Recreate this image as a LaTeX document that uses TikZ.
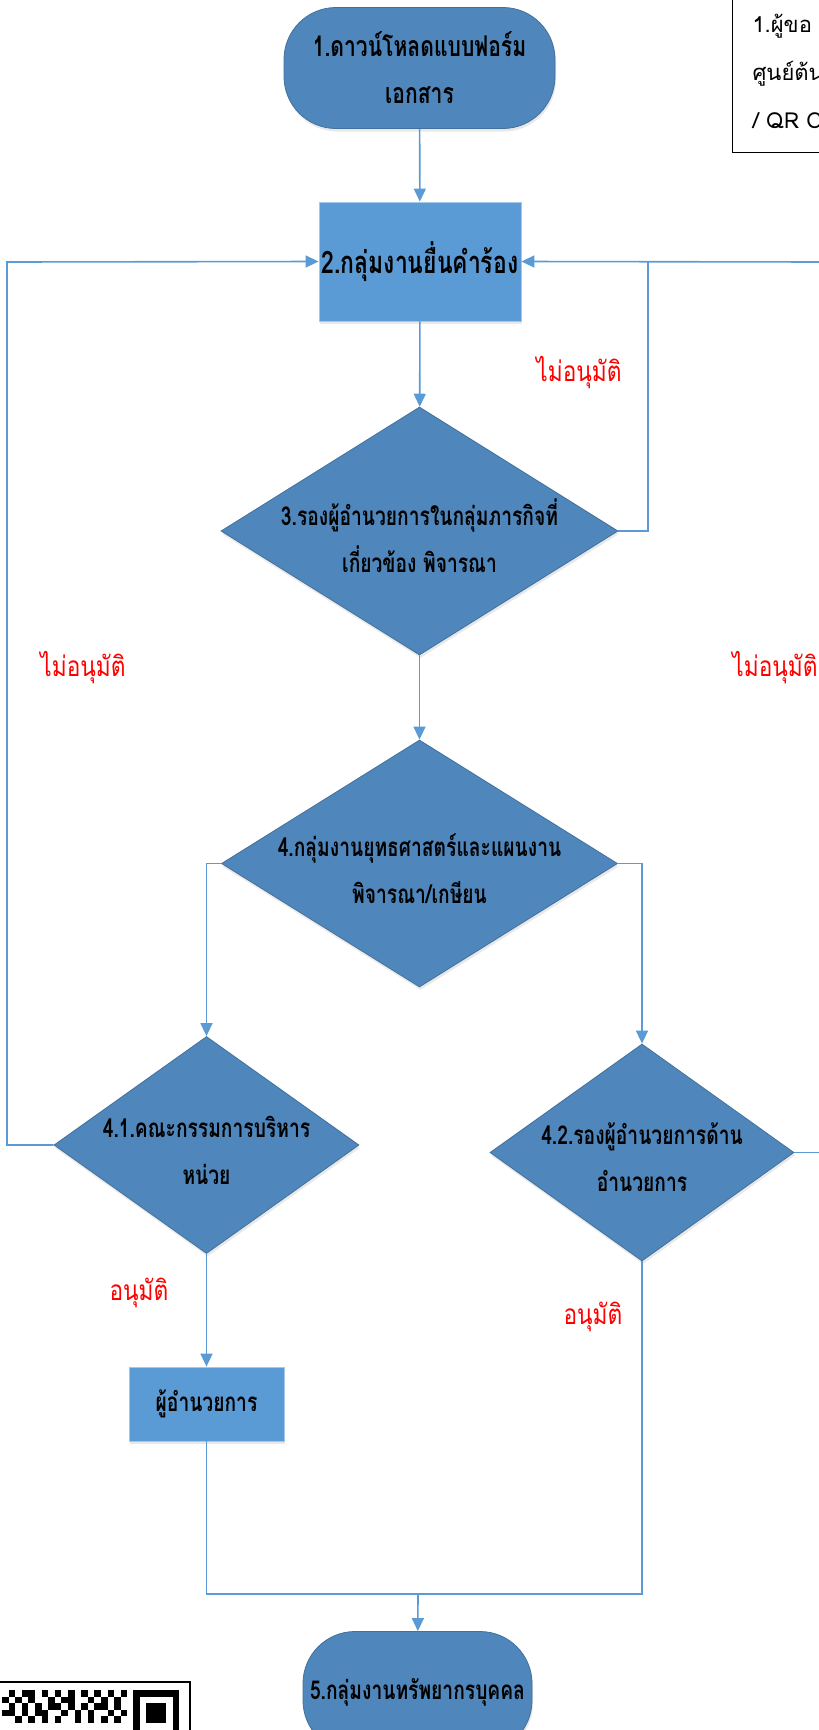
\documentclass[tikz,border=0pt]{standalone}
\usepackage{fontspec}
\newfontfamily\thaifont[Script=Thai,FakeStretch=0.74]{Loma}
\newfontfamily\redfont[Script=Thai,FakeStretch=0.81]{Loma}
\newfontfamily\notefont[Script=Thai]{Loma}
\usetikzlibrary{arrows.meta,shapes.geometric,shadows}
\definecolor{shapeblue}{RGB}{79,134,188}
\definecolor{boxblue}{RGB}{91,155,213}
\definecolor{edgeblue}{RGB}{65,113,156}
\definecolor{lineblue}{RGB}{91,155,213}

\begin{document}
\begin{tikzpicture}[x=1pt,y=-1pt,
    term/.style={rectangle,rounded corners=52pt,fill=shapeblue,draw=edgeblue,line width=0.8pt,align=center,inner sep=0pt,
        font=\thaifont\bfseries\fontsize{26}{47}\selectfont,drop shadow={opacity=0.18,shadow xshift=1pt,shadow yshift=-3pt}},
    proc/.style={rectangle,fill=boxblue,draw=boxblue!55!white,line width=0.8pt,align=center,inner sep=0pt,
        font=\thaifont\bfseries\fontsize{26}{47}\selectfont,drop shadow={opacity=0.18,shadow xshift=1pt,shadow yshift=-3pt}},
    decision/.style={diamond,fill=shapeblue,draw=edgeblue,line width=0.8pt,inner sep=0pt,
        drop shadow={opacity=0.18,shadow xshift=1pt,shadow yshift=-3pt}},
    dtext/.style={align=center,font=\thaifont\bfseries\fontsize{26}{47}\selectfont,yshift=-5pt},
    link/.style={draw=lineblue,line width=1.6pt},
    arrow/.style={link,-{Triangle[length=13pt,width=12pt]}},
    redlabel/.style={text=red,font=\redfont\fontsize{28}{30}\selectfont},
    note/.style={rectangle,draw=black,line width=1pt,align=left,anchor=south west,inner xsep=20pt,inner ysep=12pt,
        font=\notefont\fontsize{22}{48}\selectfont,text width=160pt}
]
\useasboundingbox (0,0) rectangle (819,1730);

% main column
\node[term,minimum width=271pt,minimum height=121pt,font=\thaifont\bfseries\fontsize{28.5}{47}\selectfont] (download) at (419.5,68) {1.ดาวน์โหลดแบบฟอร์ม\\เอกสาร};
\node[proc,minimum width=202pt,minimum height=119pt,font=\thaifont\bfseries\fontsize{31}{30}\selectfont] (submit) at (420,261.5) {2.กลุ่มงานยื่นคำร้อง};
\node[decision,minimum width=397pt,minimum height=248pt,
    label={[dtext]center:3.รองผู้อำนวยการในกลุ่มภารกิจที่\\เกี่ยวข้อง พิจารณา}] (deputy) at (419.5,531) {};
\node[decision,minimum width=396pt,minimum height=247pt,
    label={[dtext]center:4.กลุ่มงานยุทธศาสตร์และแผนงาน\\พิจารณา/เกษียน}] (strategy) at (419.5,863.5) {};
\node[decision,minimum width=305pt,minimum height=217pt,
    label={[dtext]center:4.1.คณะกรรมการบริหาร\\หน่วย}] (board) at (206.5,1145) {};
\node[decision,minimum width=304pt,minimum height=217pt,
    label={[dtext]center:4.2.รองผู้อำนวยการด้าน\\อำนวยการ}] (admin) at (642,1152.5) {};
\node[proc,minimum width=155pt,minimum height=74pt] (director) at (206.5,1404) {ผู้อำนวยการ};
\node[term,minimum width=229pt,minimum height=121pt] (hr) at (417.5,1692) {5.กลุ่มงานทรัพยากรบุคคล};

% note box at the top right
\node[note,minimum height=162pt] (steps) at (732,153) {1.ผู้ขอ\\ศูนย์ต้น\\/ QR C};

% helper points
\coordinate (rjoin) at (648,262);
\coordinate (redge) at (825,262);
\coordinate (ljoin) at (7,262);
\coordinate (aedge) at (825,1152.5);
\coordinate (mjoin) at (418,1594);

% connectors
\draw[arrow] (download) -- (submit);
\draw[arrow] (submit) -- (deputy);
\draw[link] (deputy.east) -| (rjoin);
\draw[arrow] (redge) -- (submit.east);
\draw[arrow] (deputy) -- (strategy);
\draw[arrow] (strategy.west) -| (board.north);
\draw[arrow] (strategy.east) -| (admin.north);
\draw[arrow] (board.west) -| (ljoin) -- (submit.west);
\draw[link] (admin.east) -- (aedge);
\draw[arrow] (board) -- (director);
\draw[link] (director.south) |- (mjoin) -| (admin.south);
\draw[arrow] (mjoin) -- (hr);

% labels
\node[redlabel] (noleft) at (83,668) {ไม่อนุมัติ};
\node[redlabel] (nodeputy) at (579,373) {ไม่อนุมัติ};
\node[redlabel] (noright) at (775,668) {ไม่อนุมัติ};
\node[redlabel] (okboard) at (139,1293) {อนุมัติ};
\node[redlabel] (okadmin) at (593,1317) {อนุมัติ};

% QR code, cut off at the corner
\draw[line width=2pt] (-3,1682) rectangle (190,1760);
\fill (133,1690) rectangle (179.2,1736.2);
\fill[white] (139.6,1696.6) rectangle (172.6,1729.6);
\fill (146.2,1703.2) rectangle (166,1723);
\foreach \c/\r in {0/1,0/3,1/0,1/2,1/3,2/1,2/4,3/0,3/2,3/3,4/0,4/1,4/4,5/2,5/3,6/0,6/3,6/4,7/1,7/2,8/0,8/2,8/4,9/1,9/3,10/0,10/1,10/2,11/3,11/4,12/0,12/2,13/1,13/3,13/4,14/0,14/2,15/1,15/2,15/4,16/0,16/3,17/1,17/2,17/4,18/0,18/3}
    \fill (2+\c*6.6,1690+\r*6.6) rectangle ++(6.6,6.6);
\end{tikzpicture}
\end{document}
